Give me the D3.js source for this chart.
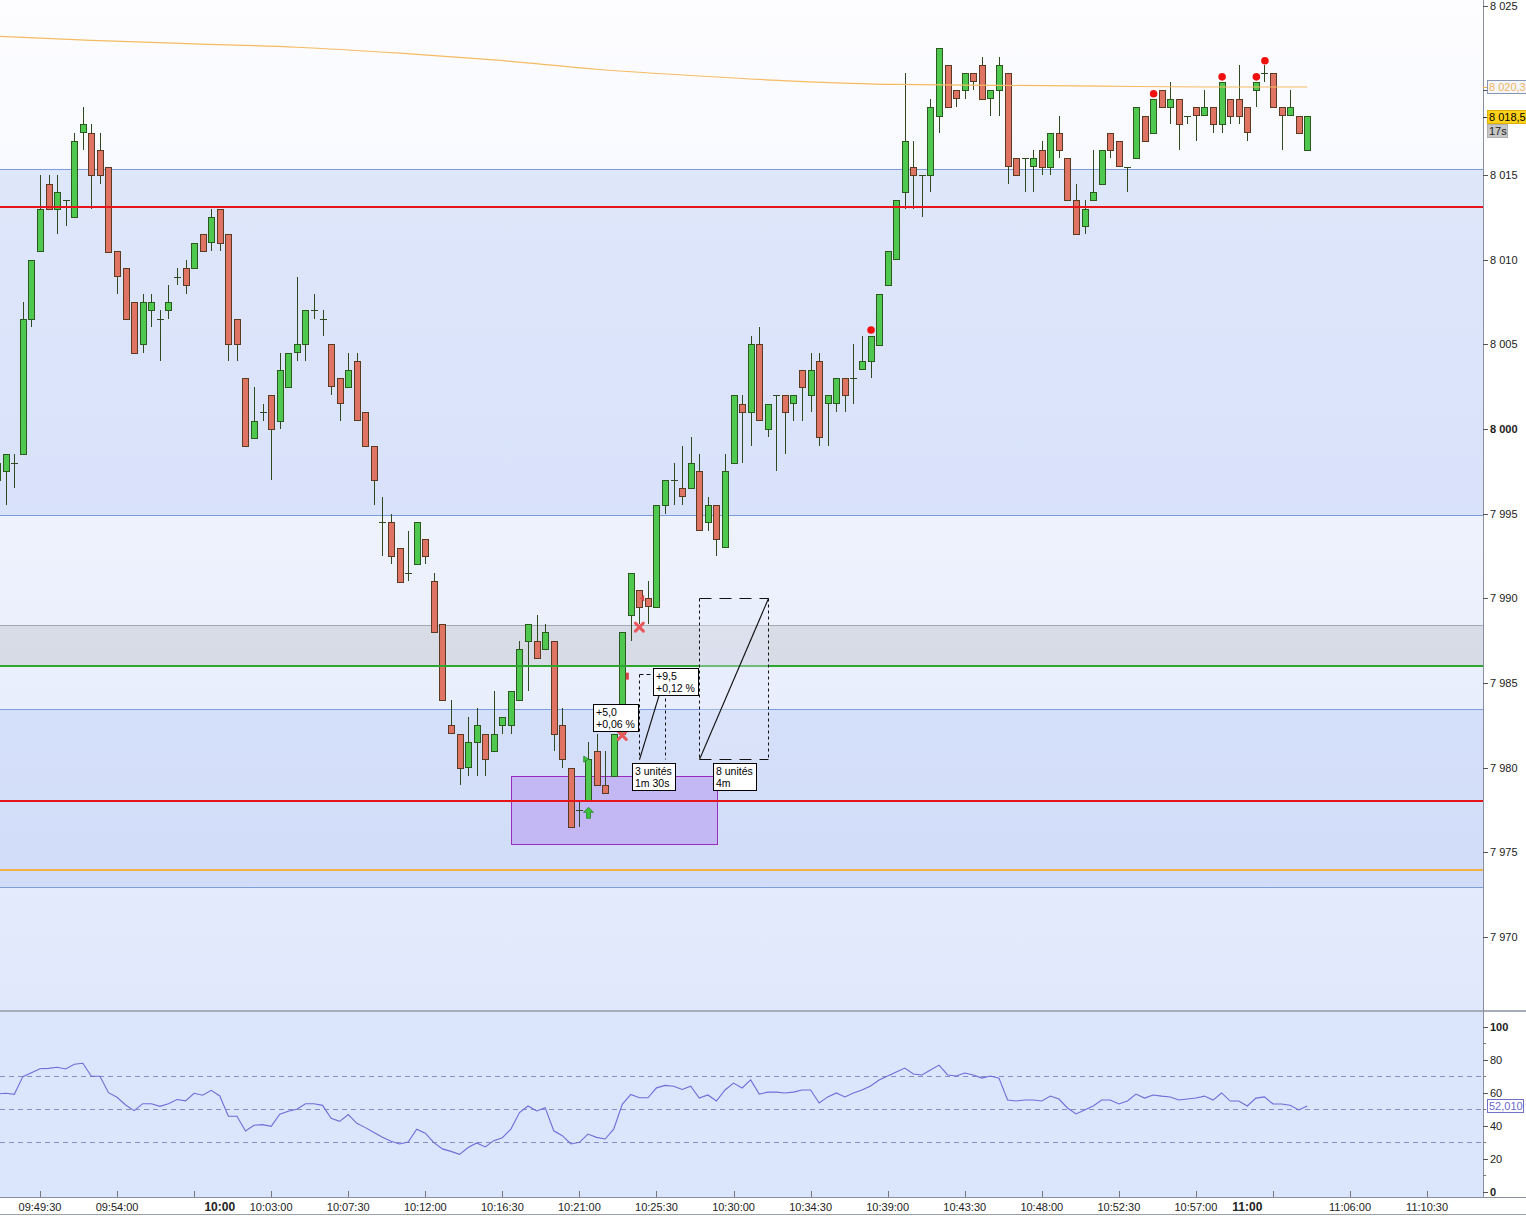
<!DOCTYPE html>
<html><head><meta charset="utf-8">
<script src="https://cdn.jsdelivr.net/npm/d3@7"></script>
<style>
html,body{margin:0;padding:0;background:#fff;overflow:hidden;}
svg{display:block;font-family:"Liberation Sans",Arial,sans-serif;}
</style></head><body>
<svg id="c" width="1526" height="1216"></svg>
<script>
// ---------- DATA (30-second bars, first bar 09:47:00) ----------
const startTime = "09:47:00";
const barSeconds = 30;
const opens = [
 7997,7997.5,7998,7998.5,8006.5,8010.5,8014.5,8013,8013.5,8012.5,
 8017.5,8017.5,8016.5,8015.5,8010.5,8009.5,8007.5,8005,8007,8006.5,
 8007,8009,8009.5,8009.5,8011.5,8011,8013,8011.5,8006.5,8003,
 7999.5,8001,8002,8000.5,8002.5,8004.5,8005,8007,8006.5,8005,
 8003,8002.5,8004,8001,7999,7994.5,7994.5,7993,7991.5,7992,
 7993.5,7991,7988.5,7982.5,7982,7980,7981.5,7982,7981,7982.5,
 7982.5,7984,7987.5,7987.5,7987,7987.5,7982.5,7980,7977.5,7978,
 7981,7979,7979.5,7982,7989,7990.5,7990,7989.5,7995.5,7997,
 7996.5,7996.5,7997.5,7994.5,7995.5,7993,7998,8001.5,8001,8005,
 8000,8002,8002,8001.5,8003.5,8002,8004,8001.5,8001.5,8003,
 8003,8003.5,8004,8005,8008.5,8010,8014,8015.5,8015,8015,
 8018.5,8021.5,8020,8020,8021,8021.5,8019.5,8020,8021,8016,
 8016,8015.5,8016.5,8015.5,8017.5,8016,8013.5,8012,8013.5,8014.5,
 8017.5,8017,8015.5,8016,8018.5,8017.5,8020,8019,8019.5,8018.5,
 8019,8018.5,8019,8018,8019.5,8019.5,8019,8020,8021,8021,
 8019,8018.5,8018.5,8016.5];
const highs = [
 7998.5,7998.5,7998.5,8007.5,8010,8015,8015,8015,8013.5,8017.5,
 8019,8018,8017.5,8015.5,8010.5,8009.5,8007.5,8008,8008,8007,
 8008.5,8009.5,8010,8011,8011.5,8013,8013,8011.5,8006.5,8003,
 8002.5,8001.5,8002,8004.5,8004.5,8009,8007,8008,8007,8005,
 8003,8004.5,8004.5,8001,7999,7996,7995,7993,7994,7994.5,
 7993.5,7991.5,7988.5,7984,7982,7983,7983.5,7982,7984.5,7983,
 7984.5,7987.5,7988.5,7989,7988.5,7987.5,7983.5,7980,7978,7981.5,
 7982,7981,7982,7988,7991.5,7990.5,7991,7995.5,7997,7998,
 7999,7999.5,7998.5,7996,7995.5,7998.5,8002,8002,8005.5,8006,
 8001.5,8002,8002,8002,8003.5,8004.5,8004.5,8002,8003,8003,
 8005,8005.5,8005.5,8008,8010.5,8013.5,8021,8017,8015,8019.5,
 8022.5,8021.5,8020,8021,8021,8022,8020,8022,8021,8016,
 8016,8016.5,8017,8017.5,8018.5,8016,8014.5,8013.5,8016.5,8016.5,
 8017.5,8017,8015.5,8019,8018.5,8019.5,8020,8020.5,8019.5,8018.5,
 8019,8020,8019,8020.5,8019.5,8021.5,8019,8020.5,8021.5,8021,
 8019,8020,8018.5,8018.5];
const lows = [
 7996.5,7995.5,7996.5,7998.5,8006,8010.5,8013,8011.5,8012,8012.5,
 8016.5,8013,8014.5,8010.5,8008,8006.5,8004.5,8004.5,8006,8004,
 8006.5,8008.5,8008,8009.5,8010.5,8010.5,8010.5,8004,8004,7999,
 7999.5,8000.5,7997,8000,8002.5,8004,8004,8006.5,8005.5,8002,
 8000.5,8002.5,8000.5,7999,7995.5,7992.5,7992,7991,7991,7992,
 7992,7988,7984,7982,7979,7979.5,7979.5,7979.5,7981,7982,
 7982,7984,7984.5,7986.5,7987,7981,7980,7976.5,7976.5,7978,
 7979,7978.5,7979.5,7982,7987.5,7988.5,7988.5,7989.5,7995,7995.5,
 7995.5,7996.5,7994,7994,7992.5,7993,7998,7998,7999,8000.5,
 7999.5,7997.5,7998.5,8000.5,8000.5,8001,7999,7999,8001,8001,
 8001.5,8003.5,8003,8005,8008.5,8010,8013,8013,8012.5,8014,
 8017.5,8019,8019,8019.5,8020,8019.5,8018.5,8018.5,8014.5,8015,
 8014,8014,8015,8015,8016,8013.5,8011.5,8011.5,8013.5,8014.5,
 8016,8015.5,8014,8016,8017,8017.5,8019,8018,8016.5,8018,
 8017,8018.5,8017.5,8017.5,8018,8018,8017,8019,8020.5,8019,
 8016.5,8018.5,8017.5,8016.5];
const closes = [
 7998,7998.5,7998,8006.5,8010,8013,8013,8014,8013.5,8017,
 8018,8015,8015,8010.5,8009,8006.5,8004.5,8007.5,8007.5,8006.5,
 8007.5,8009,8008.5,8011,8010.5,8012.5,8011,8005,8005,7999,
 8000.5,8001,8000,8003.5,8004.5,8005,8007,8007,8006.5,8002.5,
 8001.5,8003.5,8000.5,7999,7997,7994.5,7992.5,7991,7991.5,7994.5,
 7992.5,7988,7984,7982,7980,7981.5,7982.5,7980.5,7982,7983,
 7984.5,7987,7988.5,7986.5,7988,7982,7980.5,7976.5,7977.5,7980.5,
 7979,7978.5,7982,7988,7991.5,7989.5,7989.5,7995.5,7997,7997,
 7996,7998,7994,7995.5,7993.5,7997.5,8002,8001,8005,8000.5,
 8001.5,8002,8001,8002,8002.5,8003.5,7999.5,8002,8003,8002,
 8003,8004,8005.5,8008,8010.5,8013.5,8017,8015,8015,8019,
 8022.5,8019,8019.5,8021,8020.5,8019.5,8020,8021.5,8015.5,8015,
 8016,8016,8015.5,8017.5,8016.5,8013.5,8011.5,8013,8014,8016.5,
 8016.5,8015.5,8015.5,8019,8017,8019.5,8019,8019.5,8018,8018.5,
 8018.5,8019,8018,8020.5,8018.5,8018.5,8017.5,8020.5,8021,8019,
 8018.5,8019,8017.5,8018.5];
const rsiValues = [
 59.3,59.7,59.1,69.8,72.2,74.6,74.8,75.5,74.4,77.3,
 77.9,70,70,60.1,57.3,52.6,49.2,53.4,53.4,51.8,
 53.4,55.9,55.1,59.7,58.5,61.5,58.1,45.8,45.8,36.9,
 40.3,40.7,39.7,47,48.8,50,53.4,53.4,52.4,44.5,
 42.7,46.8,41.5,38.9,35.9,33,30.6,29,30.2,37.9,
 35.5,29.8,26,24.5,22.7,26.8,29.6,27.2,31,32.8,
 38,48,52,49,51,37,34,29,30,35,
 33,32,38,53,59,57,57,63,64.5,64,
 62,64,56.8,58.7,55,61.7,65.9,62.9,67.8,59.2,
 60.4,60.4,59.9,60.4,61.7,61.7,53.8,57.5,59.9,57.5,
 59.9,61.7,64.1,67.8,70.2,72.6,75,71.4,70.8,73.8,
 76.8,70.8,70.2,72,70.8,68.9,70.2,68.9,55.6,55,
 55.6,55.6,55,58,56.2,50.8,47.2,49.6,52,55.6,
 55.6,53.2,55,59.2,56.8,58.7,58,57.5,55.6,56.2,
 56.8,58,55.6,59.9,55,55,52,56.8,57.5,53.2,
 53.2,52.5,49.6,52.01];
// moving average (sampled at bar numbers)
const maBars = [0,11,23,35,47,58,70,82,93,105,117,129,141,153];
const maValues = [8023.2,8022.95,8022.75,8022.55,8022.2,8021.8,8021.25,8020.85,8020.55,8020.35,8020.3,8020.25,8020.2,8020.2];
const maLabel = "8 020,3";
const lastLabel = "8 018,5";
const countdownLabel = "17s";
const rsiLabel = "52,010";
// horizontal levels
const zoneBounds = [8015.36, 7994.9, 7983.45, 7972.95];
const greyBand = [7988.4, 7986];
const redLevels = [8013.1, 7978.0];
const greenLevels = [7986];
const orangeLevels = [7973.95];
// purple rectangle (bars, prices)
const boxBars = [60, 84];
const boxPrices = [7979.5, 7975.5];
// measurement tools
const measureStart = [75, 82];
const measureEnd = [78, 90];
const measureLow = [7980.5, 7980.5];
const measureHigh = [7985.5, 7990];
const noteBars = [69.6, 76.6, 74.15, 83.6];
const notePrices = [7983.75, 7985.9, 7980.3, 7980.3];
const noteTexts = [["+5,0","+0,06 %"],["+9,5","+0,12 %"],["3 unités","1m 30s"],["8 unités","4m"]];
// markers
const dotBars = [102, 135, 143, 147, 148];
const dotPrices = [8005.85, 8019.8, 8020.8, 8020.8, 8021.75];
const arrowBars = [69]; const arrowPrices = [7977.3];
const flagBars = [68.5]; const flagPrices = [7980.5];
const crossBars = [75, 73]; const crossPrices = [7988.3, 7981.9];
const tickMarkBars = [73.6]; const tickMarkPrices = [7985.4];
const triBars = [75.45]; const triPrices = [7990];
// axes
const priceTicks = [7970,7975,7980,7985,7990,7995,8000,8005,8010,8015,8020,8025];
const priceTickLabels = ["7 970","7 975","7 980","7 985","7 990","7 995","8 000","8 005","8 010","8 015","","8 025"]; // 8 020 is hidden under the MA label
const rsiTicks = [0,20,40,60,80,100];
const rsiTickLabels = ["0","20","40","60","80","100"];
const rsiMinorTicks = [10,30,50,70,90];
const rsiGuides = [70,50,30];
const timeTickLabels = ["09:49:30","09:54:00","10:03:00","10:07:30","10:12:00","10:16:30","10:21:00","10:25:30","10:30:00","10:34:30","10:39:00","10:43:30","10:48:00","10:52:30","10:57:00","11:06:00","11:10:30"];
const timeTickMarks = ["09:49:30","09:54:00","09:58:30","10:03:00","10:07:30","10:12:00","10:16:30","10:21:00","10:25:30","10:30:00","10:34:30","10:39:00","10:43:30","10:48:00","10:52:30","10:57:00","11:01:30","11:06:00","11:10:30"];
const hourLabels = ["10:00","11:00"];

// ---------- LAYOUT ----------
const plotR = 1483, mainB = 1010, rsiT = 1012, rsiB = 1197;
const svg = d3.select("#c");
const parseT = d3.timeParse("%H:%M:%S");
const parseHM = d3.timeParse("%H:%M");
const t0 = parseT(startTime);
const barTime = k => new Date(t0.getTime() + k * barSeconds * 1000);
const x = d3.scaleTime().domain([parseT("10:00:00"), parseT("11:00:00")]).range([219.8, 1247.3]);
const y = d3.scaleLinear().domain([7970, 8025]).range([936.9, 5.75]);
const yr = d3.scaleLinear().domain([0, 100]).range([1191.8, 1026.8]);
const xk = k => x(barTime(k));

const defs = svg.append("defs");
const gr = defs.append("linearGradient").attr("id","bg").attr("gradientUnits","userSpaceOnUse")
  .attr("x1",0).attr("y1",0).attr("x2",0).attr("y2",mainB);
gr.append("stop").attr("offset",0).attr("stop-color","#fdfdff");
gr.append("stop").attr("offset",1).attr("stop-color","#e0e8fb");
defs.append("clipPath").attr("id","clipMain").append("rect").attr("x",0).attr("y",0).attr("width",plotR).attr("height",mainB);
defs.append("clipPath").attr("id","clipRsi").append("rect").attr("x",0).attr("y",rsiT).attr("width",plotR).attr("height",rsiB-rsiT);

svg.append("rect").attr("width",1526).attr("height",1216).attr("fill","#ffffff");
const main = svg.append("g").attr("clip-path","url(#clipMain)");
main.append("rect").attr("x",0).attr("y",0).attr("width",plotR).attr("height",mainB).attr("fill","url(#bg)");

// zones
for (let z = 0; z < zoneBounds.length; z += 2) {
  main.append("rect").attr("x",0).attr("width",plotR)
    .attr("y", y(zoneBounds[z])).attr("height", y(zoneBounds[z+1]) - y(zoneBounds[z]))
    .attr("fill","#b2c7f4").attr("fill-opacity",0.37);
}
main.append("rect").attr("x",0).attr("width",plotR)
  .attr("y", y(greyBand[0])).attr("height", y(greyBand[1]) - y(greyBand[0]))
  .attr("fill","#c3c8d0").attr("fill-opacity",0.5);

// purple box
main.append("rect")
  .attr("x", Math.round(xk(boxBars[0]))+0.5).attr("y", Math.round(y(boxPrices[0]))+0.5)
  .attr("width", Math.round(xk(boxBars[1]) - xk(boxBars[0])))
  .attr("height", Math.round(y(boxPrices[1]) - y(boxPrices[0])))
  .attr("fill","#c3b8f3").attr("stroke","#9a2cc0").attr("stroke-width",1);

// thin zone border lines
const hl = (p, color, w) => main.append("line").attr("x1",0).attr("x2",plotR)
  .attr("y1", Math.round(y(p)) + (w%2 ? 0.5 : 0)).attr("y2", Math.round(y(p)) + (w%2 ? 0.5 : 0))
  .attr("stroke", color).attr("stroke-width", w);
zoneBounds.forEach(p => hl(p, "#7b9ddc", 1));
hl(greyBand[0], "#a4a8b0", 1);

// candles
const idx = d3.range(opens.length);
const cg = main.append("g").attr("shape-rendering","crispEdges");
const cxk = k => Math.round(xk(k));
cg.selectAll("line.w").data(idx).join("line").attr("class","w")
  .attr("x1", k => cxk(k)+0.5).attr("x2", k => cxk(k)+0.5)
  .attr("y1", k => y(highs[k])).attr("y2", k => y(lows[k]))
  .attr("stroke","#2f4a20").attr("stroke-width",1);
const bodies = idx.filter(k => opens[k] !== closes[k]);
cg.selectAll("rect.b").data(bodies).join("rect").attr("class","b")
  .attr("x", k => cxk(k) - 3 + 0.5)
  .attr("y", k => Math.round(y(Math.max(opens[k], closes[k]))) + 0.5)
  .attr("width", 6)
  .attr("height", k => Math.max(1, Math.round(Math.abs(y(opens[k]) - y(closes[k])))))
  .attr("fill", k => closes[k] > opens[k] ? "#4fc84f" : "#e07464")
  .attr("stroke", k => closes[k] > opens[k] ? "#2c5a1e" : "#5a3b22").attr("stroke-width",1);
const dojis = idx.filter(k => opens[k] === closes[k]);
cg.selectAll("line.d").data(dojis).join("line").attr("class","d")
  .attr("x1", k => cxk(k) - 3).attr("x2", k => cxk(k) + 4)
  .attr("y1", k => Math.round(y(opens[k])) + 0.5).attr("y2", k => Math.round(y(opens[k])) + 0.5)
  .attr("stroke","#2f4a20").attr("stroke-width",1);

// strong levels
redLevels.forEach(p => hl(p, "#e8141c", 2));
greenLevels.forEach(p => hl(p, "#2ea52e", 2));
orangeLevels.forEach(p => hl(p, "#f4b347", 2));

// moving average
main.append("path").datum(maBars.map((b,i)=>[xk(b), y(maValues[i])]))
  .attr("d", d3.line().curve(d3.curveMonotoneX))
  .attr("fill","none").attr("stroke","#f5bb62").attr("stroke-width",1.2);

// measurement tools
measureStart.forEach((s, i) => {
  const x0 = Math.round(xk(s)) + 0.5, x1 = Math.round(xk(measureEnd[i])) + 0.5;
  const yT = Math.round(y(measureHigh[i])) + 0.5, yB = Math.round(y(measureLow[i])) + 0.5;
  const long = i === 1;
  const g = main.append("g").attr("stroke","#111").attr("fill","none");
  if (long) g.append("rect").attr("x",x0).attr("y",yT).attr("width",x1-x0).attr("height",yB-yT)
     .attr("fill","#e6ecfb").attr("fill-opacity",0.35).attr("stroke","none");
  g.append("line").attr("x1",x0).attr("x2",x0).attr("y1",yT).attr("y2",yB).attr("stroke-dasharray","3,3");
  g.append("line").attr("x1",x1).attr("x2",x1).attr("y1",yT).attr("y2",yB).attr("stroke-dasharray","3,3");
  g.append("line").attr("x1",x0).attr("x2",x1).attr("y1",yT).attr("y2",yT).attr("stroke-dasharray", long ? "12,8" : "4,3");
  if (long) g.append("line").attr("x1",x0).attr("x2",x1).attr("y1",yB).attr("y2",yB).attr("stroke-dasharray","12,8");
  g.append("line").attr("x1",x0).attr("x2",x1).attr("y1",yB).attr("y2",yT).attr("stroke","#111").attr("stroke-width",1.1);
});

// markers
const mk = main.append("g");
dotBars.forEach((b,i) => mk.append("circle").attr("cx", xk(b)+0.5).attr("cy", y(dotPrices[i])).attr("r",3.8).attr("fill","#f01010"));
arrowBars.forEach((b,i) => {
  const ax = Math.round(xk(b))+0.5, ay = y(arrowPrices[i]);
  mk.append("path").attr("transform",`translate(${ax},${ay})`)
    .attr("d","M0,-6 L5,-1 L2,-1 L2,5 L-2,5 L-2,-1 L-5,-1 Z")
    .attr("fill","#3cc23c").attr("stroke","#23862a").attr("stroke-width",0.8);
});
flagBars.forEach((b,i) => mk.append("path").attr("transform",`translate(${xk(b)},${y(flagPrices[i])})`)
  .attr("d","M0,-3 L5,0 L0,3 Z").attr("fill","#3cc23c").attr("stroke","#23862a").attr("stroke-width",0.8));
crossBars.forEach((b,i) => {
  const ax = xk(b), ay = y(crossPrices[i]);
  mk.append("path").attr("transform",`translate(${ax},${ay})`)
    .attr("d","M-4,-4 L4,4 M4,-4 L-4,4").attr("stroke","#e8585c").attr("stroke-width",3).attr("stroke-linecap","round");
});
tickMarkBars.forEach((b,i) => mk.append("rect").attr("x", xk(b)-1.5).attr("y", y(tickMarkPrices[i])-3.5)
  .attr("width",3).attr("height",7).attr("fill","#d84848"));
triBars.forEach((b,i) => mk.append("path").attr("transform",`translate(${xk(b)},${y(triPrices[i])})`)
  .attr("d","M-3,0 L1,-3.5 L1,3.5 Z").attr("fill","#d84848"));

// notes
noteBars.forEach((b,i) => {
  const nx = Math.round(xk(b)) + 0.5, ny = Math.round(y(notePrices[i])) + 0.5;
  const g = main.append("g");
  const r = g.append("rect").attr("x",nx).attr("y",ny).attr("height",27).attr("fill","#fff").attr("stroke","#000");
  let w = 0;
  noteTexts[i].forEach((t,j) => {
    const tx = g.append("text").attr("x",nx+2.5).attr("y",ny+11+j*12).attr("font-size",10.5).attr("fill","#000").text(t);
    w = Math.max(w, tx.node().getComputedTextLength());
  });
  r.attr("width", Math.round(w + 6));
});

// ---------- RSI panel ----------
svg.append("rect").attr("x",0).attr("y",rsiT).attr("width",plotR).attr("height",rsiB-rsiT).attr("fill","#dbe5fb");
const rg = svg.append("g").attr("clip-path","url(#clipRsi)");
rsiGuides.forEach(v => rg.append("line").attr("x1",0).attr("x2",plotR)
  .attr("y1", Math.round(yr(v))+0.5).attr("y2", Math.round(yr(v))+0.5)
  .attr("stroke","#8c8cc6").attr("stroke-dasharray","5,4"));
rg.append("path").datum(idx)
  .attr("d", d3.line().x(k => xk(k)).y(k => yr(rsiValues[k])))
  .attr("fill","none").attr("stroke","#6e6ed8").attr("stroke-width",1.1);

// separators & axes
svg.append("line").attr("x1",0).attr("x2",1526).attr("y1",1011).attr("y2",1011).attr("stroke","#8a90a2").attr("stroke-width",1.5);
svg.append("line").attr("x1",0).attr("x2",1526).attr("y1",rsiB+0.5).attr("y2",rsiB+0.5).attr("stroke","#8a90a2");
svg.append("line").attr("x1",0).attr("x2",1526).attr("y1",1214.5).attr("y2",1214.5).attr("stroke","#9aa0ae");
svg.append("line").attr("x1",plotR+0.5).attr("x2",plotR+0.5).attr("y1",0).attr("y2",rsiB).attr("stroke","#8a90a2");

const ax = svg.append("g").attr("font-size",11).attr("fill","#222");
priceTicks.forEach((p,i) => {
  const py = Math.round(y(p)) + 0.5;
  ax.append("line").attr("x1",plotR).attr("x2",plotR+5).attr("y1",py).attr("y2",py).attr("stroke","#555");
  if (priceTickLabels[i]) ax.append("text").attr("x",plotR+7).attr("y",py).attr("dy","0.35em")
    .attr("font-weight", p === 8000 ? "bold" : "normal").text(priceTickLabels[i]);
});
rsiTicks.forEach((v,i) => {
  const py = Math.round(yr(v)) + 0.5;
  ax.append("line").attr("x1",plotR).attr("x2",plotR+5).attr("y1",py).attr("y2",py).attr("stroke","#555");
  ax.append("text").attr("x",plotR+7).attr("y",py).attr("dy","0.35em")
    .attr("font-weight", (v === 0 || v === 100) ? "bold" : "normal").text(rsiTickLabels[i]);
});
rsiMinorTicks.forEach(v => {
  const py = Math.round(yr(v)) + 0.5;
  ax.append("line").attr("x1",plotR).attr("x2",plotR+3).attr("y1",py).attr("y2",py).attr("stroke","#777");
});
// price labels on axis
const lab = (py, txt, fill, stroke, color, w) => {
  const g = svg.append("g");
  g.append("rect").attr("x",plotR+4.5).attr("y",Math.round(py)-6.5).attr("width",w).attr("height",13)
    .attr("fill",fill).attr("stroke",stroke);
  g.append("text").attr("x",plotR+6).attr("y",Math.round(py)).attr("dy","0.36em").attr("font-size",11).attr("fill",color).text(txt);
};
svg.append("line").attr("x1",plotR).attr("x2",plotR+5).attr("y1",Math.round(y(maValues[maValues.length-1]))+0.5)
  .attr("y2",Math.round(y(maValues[maValues.length-1]))+0.5).attr("stroke","#f0b050");
lab(y(maValues[maValues.length-1]), maLabel, "#f3f6fd", "#8896b4", "#f1b55c", 40);
const lastY = y(closes[closes.length-1]) + 1.5;
svg.append("line").attr("x1",plotR).attr("x2",plotR+5).attr("y1",Math.round(lastY)+0.5).attr("y2",Math.round(lastY)+0.5).attr("stroke","#333");
lab(lastY, lastLabel, "#ffd21a", "#e0b000", "#000", 40);
lab(lastY + 14, countdownLabel, "#c6c6c6", "#b0b0b0", "#222", 20);
lab(yr(rsiValues[rsiValues.length-1]), rsiLabel, "#ffffff", "#7272cc", "#6a6ad0", 36);

// time axis
const tx = svg.append("g").attr("font-size",11).attr("fill","#222");
timeTickMarks.forEach(t => {
  const px = Math.round(x(parseT(t))) + 0.5;
  tx.append("line").attr("x1",px).attr("x2",px).attr("y1",rsiB-6).attr("y2",rsiB).attr("stroke","#777");
});
timeTickLabels.forEach(t => tx.append("text").attr("x", x(parseT(t))).attr("y",1211).attr("text-anchor","middle").text(t));
hourLabels.forEach(t => tx.append("text").attr("x", x(parseHM(t))).attr("y",1211).attr("text-anchor","middle")
  .attr("font-weight","bold").attr("font-size",12).text(t));
</script>
</body></html>
